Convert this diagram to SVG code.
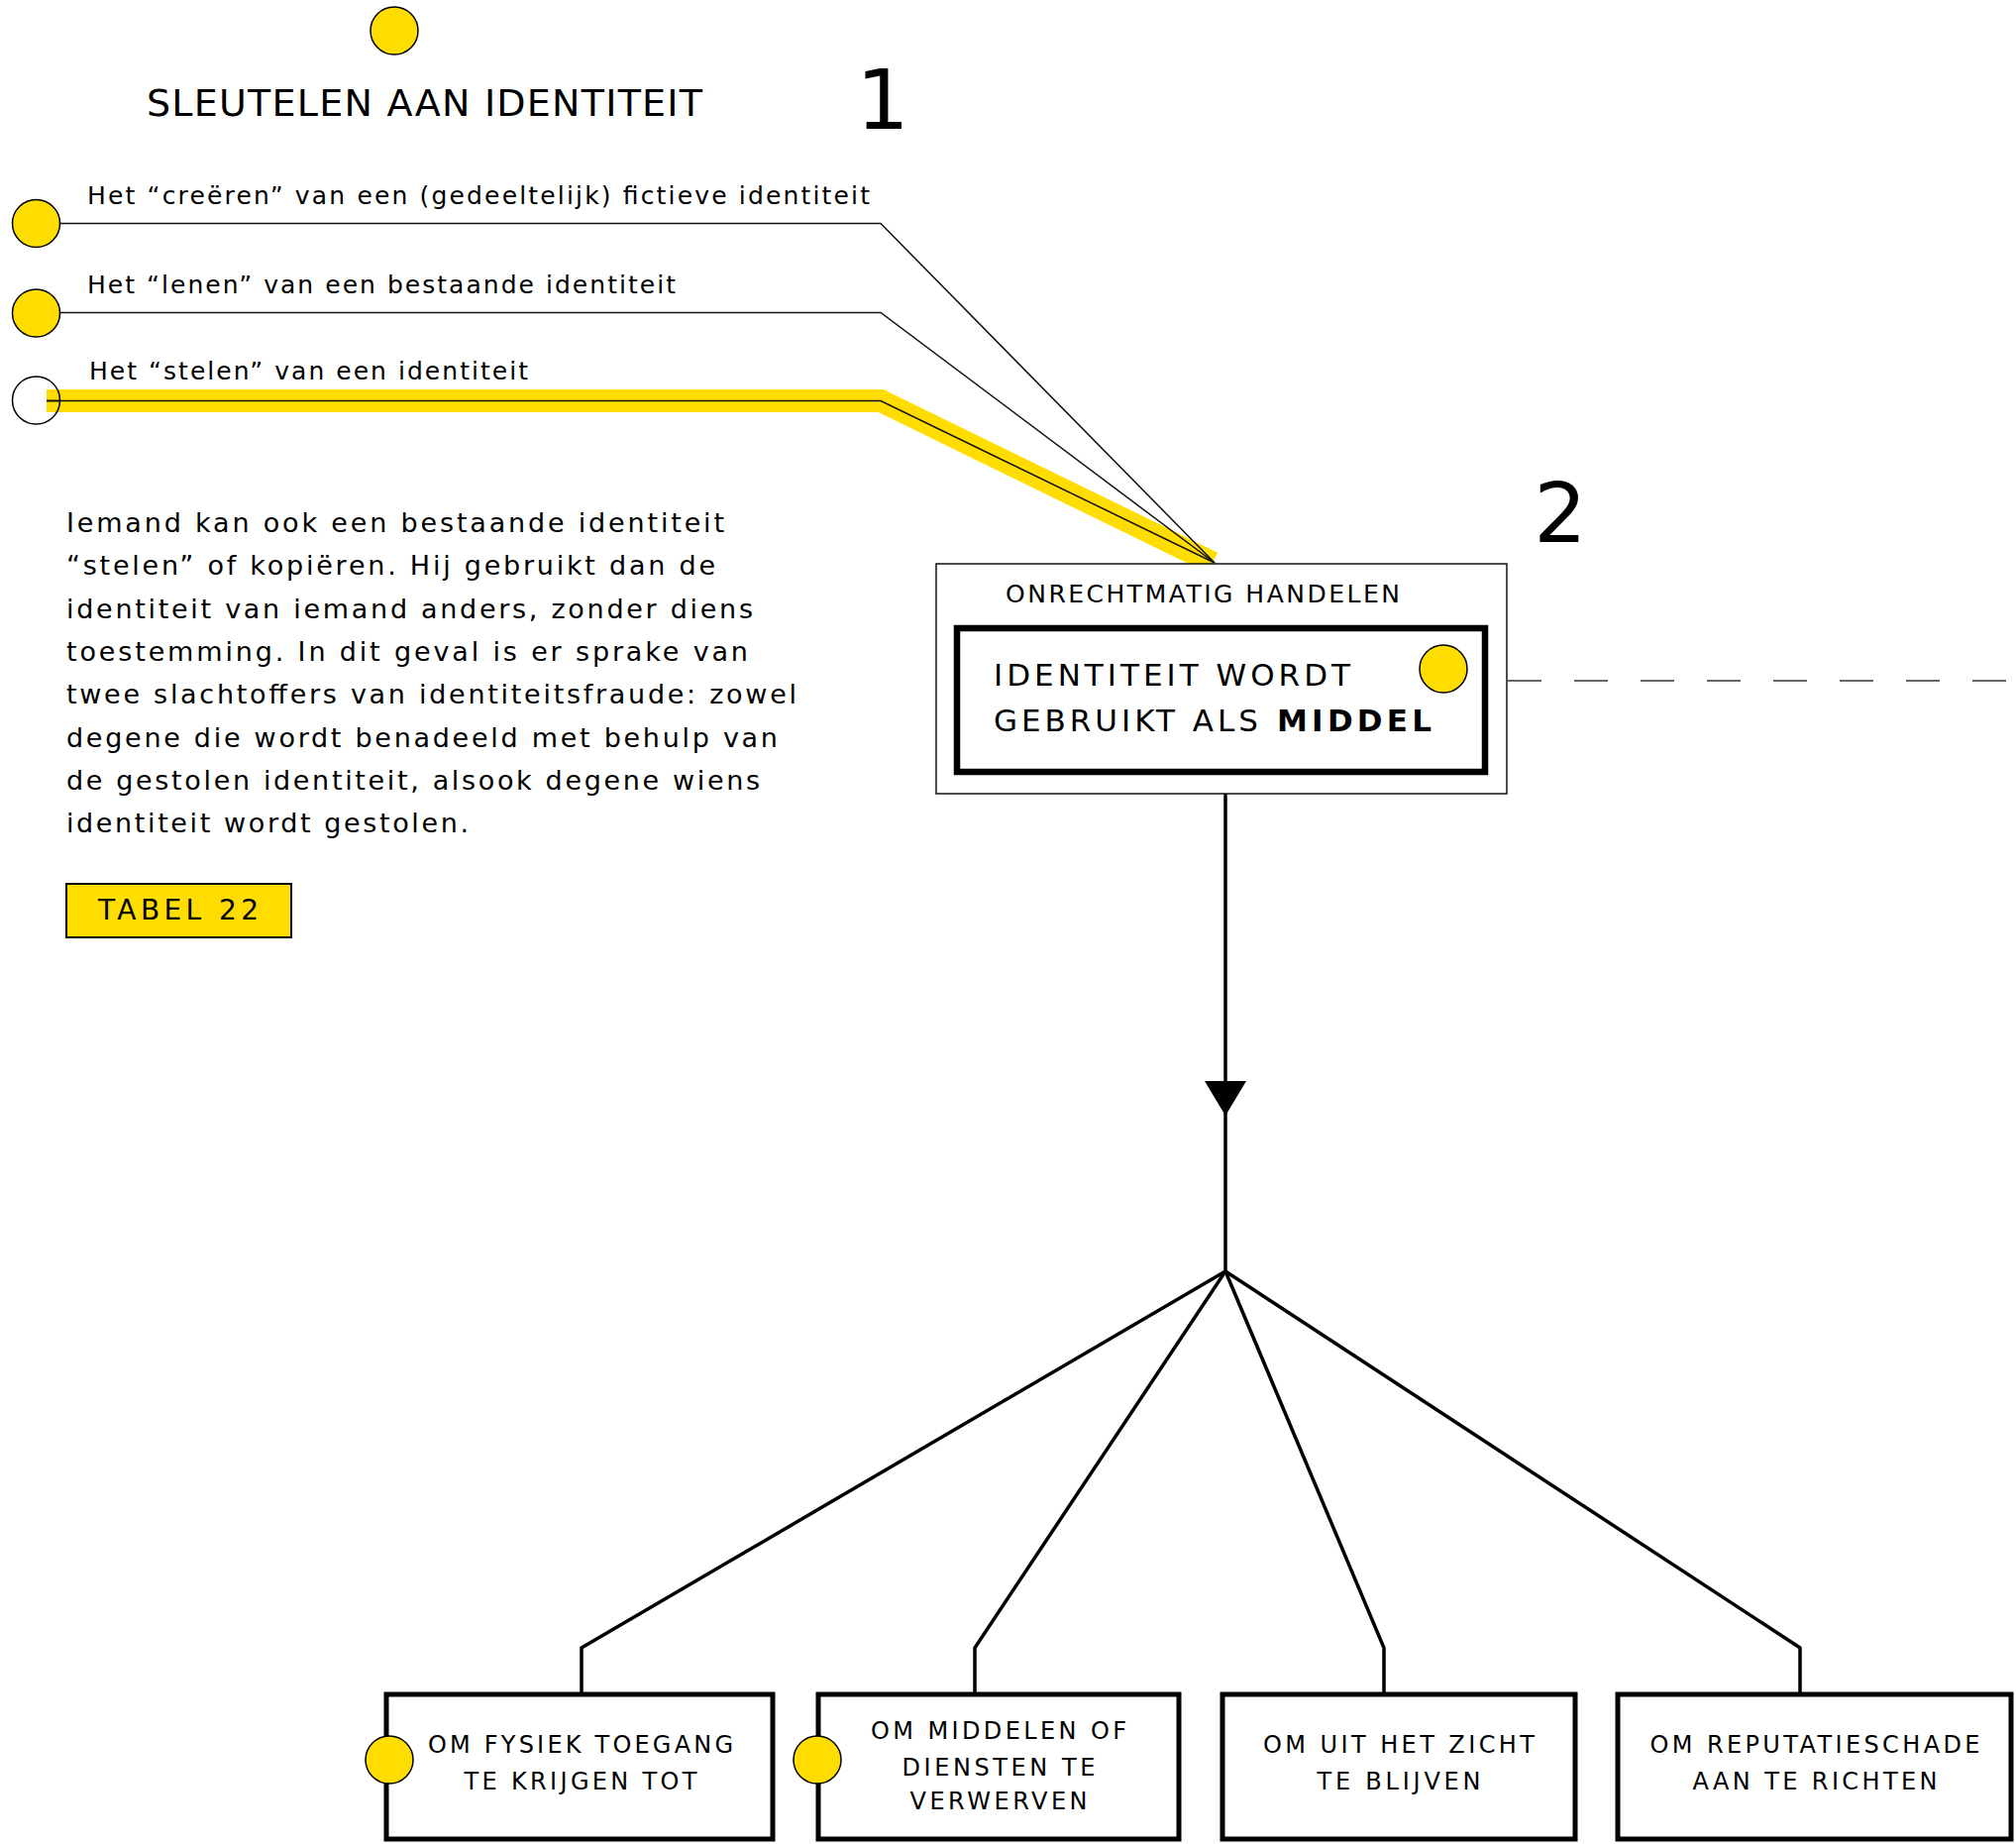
<svg xmlns="http://www.w3.org/2000/svg" width="2035" height="1861" viewBox="0 0 2035 1861">
<style>
text{font-family:"DejaVu Sans","Liberation Sans",sans-serif;fill:#000}
.lbl{font-size:25px}
.body{font-size:27px}
.box{font-size:24px;text-anchor:middle}
.big{font-size:84px;text-anchor:middle}
.dot{fill:#FFDD00;stroke:#000;stroke-width:1.5}
.thin{fill:none;stroke:#111;stroke-width:1.5}
.thick{fill:none;stroke:#000;stroke-width:3.5;stroke-linejoin:miter}
.node{fill:#fff;stroke:#000;stroke-width:5}
</style>
<rect width="2035" height="1861" fill="#fff"/>

<g id="title">
<circle class="dot" cx="398" cy="31" r="24"/>
<text x="148" y="117" font-size="38" textLength="561" lengthAdjust="spacing">SLEUTELEN AAN IDENTITEIT</text>
<text class="big" x="891" y="130">1</text>
<text class="big" x="1575" y="547">2</text>
</g>

<g id="connectors">
<path d="M47,404.5 H889 L1224,568" fill="none" stroke="#FFDD00" stroke-width="23" stroke-linecap="butt" stroke-linejoin="miter"/>
<path class="thin" d="M61,225.5 H889 L1226,568"/>
<path class="thin" d="M61,315.5 H889 L1226,568"/>
<path class="thin" d="M61,404.5 H889 L1226,568" stroke-width="2"/>
<line x1="1522" y1="687" x2="2035" y2="687" stroke="#666" stroke-width="2" stroke-dasharray="34 33"/>
<path class="thick" d="M1237,801 V1283"/>
<polygon points="1216,1091 1258,1091 1237,1126" fill="#000"/>
<path class="thick" d="M1237,1283 L587,1663 V1710"/>
<path class="thick" d="M1237,1283 L984,1663 V1710"/>
<path class="thick" d="M1237,1283 L1397,1663 V1710"/>
<path class="thick" d="M1237,1283 L1817,1663 V1710"/>
</g>

<g id="option-creeren">
<circle class="dot" cx="36.5" cy="225.5" r="24"/>
<text class="lbl" x="88" y="206" textLength="790" lengthAdjust="spacing">Het “creëren” van een (gedeeltelijk) fictieve identiteit</text>
</g>
<g id="option-lenen">
<circle class="dot" cx="36.5" cy="316" r="24"/>
<text class="lbl" x="88" y="296" textLength="594" lengthAdjust="spacing">Het “lenen” van een bestaande identiteit</text>
</g>
<g id="option-stelen">
<circle cx="36.5" cy="404" r="24" fill="#fff" stroke="none"/>
<rect x="47" y="393" width="14" height="23" fill="#FFDD00"/>
<line x1="47" y1="404.5" x2="61" y2="404.5" stroke="#111" stroke-width="2"/>
<circle cx="36.5" cy="404" r="24" fill="none" stroke="#000" stroke-width="1.5"/>
<text class="lbl" x="90" y="383" textLength="443" lengthAdjust="spacing">Het “stelen” van een identiteit</text>
</g>

<g id="explanation">
<text class="body" x="67" y="537" textLength="664" lengthAdjust="spacing">Iemand kan ook een bestaande identiteit</text>
<text class="body" x="67" y="580" textLength="655" lengthAdjust="spacing">“stelen” of kopiëren. Hij gebruikt dan de</text>
<text class="body" x="67" y="624" textLength="693" lengthAdjust="spacing">identiteit van iemand anders, zonder diens</text>
<text class="body" x="67" y="667" textLength="688" lengthAdjust="spacing">toestemming. In dit geval is er sprake van</text>
<text class="body" x="67" y="710" textLength="737" lengthAdjust="spacing">twee slachtoffers van identiteitsfraude: zowel</text>
<text class="body" x="67" y="754" textLength="718" lengthAdjust="spacing">degene die wordt benadeeld met behulp van</text>
<text class="body" x="67" y="797" textLength="700" lengthAdjust="spacing">de gestolen identiteit, alsook degene wiens</text>
<text class="body" x="67" y="840" textLength="406" lengthAdjust="spacing">identiteit wordt gestolen.</text>
</g>

<g id="tabel22">
<rect x="67" y="892" width="227" height="54" fill="#FFDD00" stroke="#000" stroke-width="2"/>
<text x="99" y="928" font-size="28" textLength="162" lengthAdjust="spacing">TABEL 22</text>
</g>

<g id="onrechtmatig-handelen">
<rect x="945" y="569" width="576" height="232" fill="#fff" stroke="#111" stroke-width="1.5"/>
<text x="1015" y="608" font-size="25" textLength="398" lengthAdjust="spacing">ONRECHTMATIG HANDELEN</text>
<rect x="966" y="634" width="533" height="145" fill="#fff" stroke="#000" stroke-width="6.5"/>
<text x="1003" y="692" font-size="31" textLength="360" lengthAdjust="spacing">IDENTITEIT WORDT</text>
<text x="1003" y="738" font-size="31" textLength="267" lengthAdjust="spacing">GEBRUIKT ALS</text>
<text x="1289" y="738" font-size="31" font-weight="bold" textLength="156" lengthAdjust="spacing">MIDDEL</text>
<circle class="dot" cx="1457" cy="675" r="24"/>
</g>

<g id="fysiek-toegang">
<rect class="node" x="390" y="1710" width="390" height="146"/>
<circle class="dot" cx="393" cy="1776" r="24"/>
<text class="box" x="586" y="1769" textLength="308" lengthAdjust="spacing">OM FYSIEK TOEGANG</text>
<text class="box" x="586" y="1806" textLength="235" lengthAdjust="spacing">TE KRIJGEN TOT</text>
</g>
<g id="middelen-diensten">
<rect class="node" x="826" y="1710" width="364" height="146"/>
<circle class="dot" cx="825" cy="1776" r="24"/>
<text class="box" x="1008" y="1755" textLength="258" lengthAdjust="spacing">OM MIDDELEN OF</text>
<text class="box" x="1008" y="1792" textLength="195" lengthAdjust="spacing">DIENSTEN TE</text>
<text class="box" x="1008" y="1826" textLength="179" lengthAdjust="spacing">VERWERVEN</text>
</g>
<g id="uit-het-zicht">
<rect class="node" x="1234" y="1710" width="356" height="146"/>
<text class="box" x="1412" y="1769" textLength="274" lengthAdjust="spacing">OM UIT HET ZICHT</text>
<text class="box" x="1412" y="1806" textLength="165" lengthAdjust="spacing">TE BLIJVEN</text>
</g>
<g id="reputatieschade">
<rect class="node" x="1633" y="1710" width="397" height="146"/>
<text class="box" x="1832" y="1769" textLength="333" lengthAdjust="spacing">OM REPUTATIESCHADE</text>
<text class="box" x="1832" y="1806" textLength="247" lengthAdjust="spacing">AAN TE RICHTEN</text>
</g>
</svg>
